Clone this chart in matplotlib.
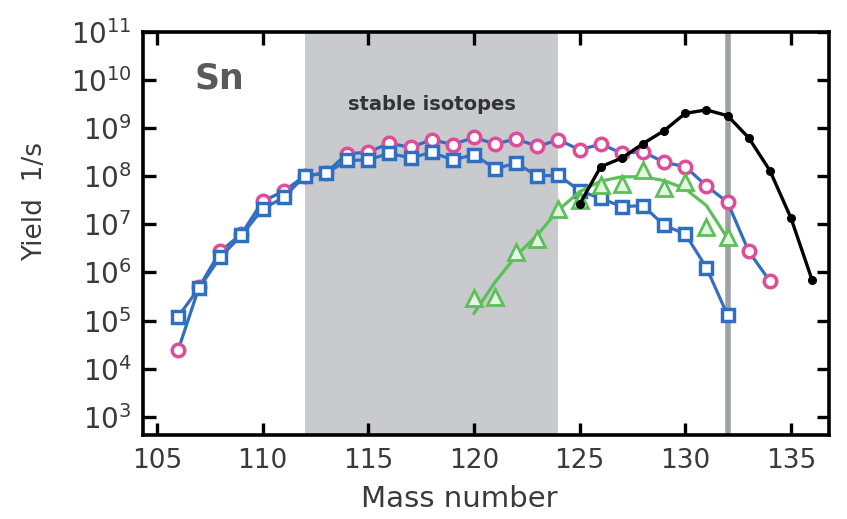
import numpy as np
import matplotlib.pyplot as plt

plt.rcParams['font.family'] = ['DejaVu Sans']

# mass numbers and yields (1/s)
mass_circ = [106, 107, 108, 109, 110, 111, 112, 113, 114, 115, 116, 117, 118, 119,
             120, 121, 122, 123, 124, 125, 126, 127, 128, 129, 130, 131, 132, 133, 134]
log_circ = [4.38, 5.70, 6.44, 6.80, 7.48, 7.69, 8.01, 8.07, 8.47, 8.50, 8.69, 8.60, 8.76, 8.66,
            8.81, 8.67, 8.78, 8.62, 8.76, 8.55, 8.67, 8.48, 8.51, 8.29, 8.20, 7.80, 7.46, 6.44, 5.82]

mass_sq = [106, 107, 108, 109, 110, 111, 112, 113, 114, 115, 116, 117, 118, 119,
           120, 121, 122, 123, 124, 125, 126, 127, 128, 129, 130, 131, 132]
log_sq = [5.08, 5.68, 6.32, 6.77, 7.32, 7.56, 8.01, 8.06, 8.33, 8.34, 8.48, 8.38, 8.50, 8.34,
          8.45, 8.16, 8.27, 8.01, 8.02, 7.70, 7.54, 7.37, 7.39, 6.98, 6.80, 6.10, 5.11]

mass_tri = [120, 121, 122, 123, 124, 125, 126, 127, 128, 129, 130, 131, 132]
log_tri = [5.46, 5.49, 6.42, 6.70, 7.32, 7.50, 7.81, 7.84, 8.13, 7.76, 7.88, 6.94, 6.73]
# smooth green curve drawn through the triangles
log_tri_curve = [5.15, 5.80, 6.35, 6.78, 7.30, 7.68, 7.90, 7.99, 7.99, 7.91, 7.74, 7.39, 6.71]

mass_dot = [125, 126, 127, 128, 129, 130, 131, 132, 133, 134, 135, 136]
log_dot = [7.42, 8.20, 8.38, 8.68, 8.95, 9.31, 9.38, 9.26, 8.80, 8.12, 7.13, 5.84]

stable_range = (112, 124)
marked_mass = 132

blue = '#2f6fc2'
pink = '#e04c98'
green = '#5cbf57'
gray_txt = '#3a3a3a'

fig = plt.figure(figsize=(8.47, 5.19), dpi=100)
ax = fig.add_axes([0.1685, 0.1618, 0.8103, 0.7765])

ax.axvspan(*stable_range, color='#c9cace', lw=0, zorder=0)
ax.axvline(marked_mass, color='#9da1a6', lw=4, zorder=1)

ax.plot(mass_circ, 10 ** np.array(log_circ), color=blue, lw=2.3, marker='o', ms=9,
        mfc='white', mec=pink, mew=2.5, zorder=3)
ax.plot(mass_sq, 10 ** np.array(log_sq), color='#3a6cc0', lw=2.3, marker='s', ms=9,
        mfc='white', mec=blue, mew=2.5, zorder=4)
ax.plot(mass_tri, 10 ** np.array(log_tri_curve), color=green, lw=2.3, zorder=5)
ax.plot(mass_tri, 10 ** np.array(log_tri), ls='none', marker='^', ms=11,
        mfc='#e6f5e3', mec=green, mew=2, zorder=5)
ax.plot(mass_dot, 10 ** np.array(log_dot), color='black', lw=2.4, marker='o', ms=5.5,
        mfc='black', mec='black', zorder=6)

ax.set_yscale('log')
ax.set_xlim(104.33, 136.8)
ax.set_ylim(10 ** 2.62, 10 ** 11)
ax.set_xticks([105, 110, 115, 120, 125, 130, 135])
ax.set_yticks([10 ** k for k in range(3, 12)])
ax.minorticks_off()

for s in ax.spines.values():
    s.set_linewidth(2.6)
ax.tick_params(which='major', direction='in', length=9, width=2.4,
               top=True, right=True, labelcolor=gray_txt, pad=9)
ax.tick_params(axis='x', labelsize=19)
ax.tick_params(axis='y', labelsize=20, pad=8)

ax.set_xlabel('Mass number', fontsize=21, color=gray_txt)
ax.set_ylabel('Yield  1/s', fontsize=19, color=gray_txt)
ax.xaxis.set_label_coords(0.462, -0.125)
ax.yaxis.set_label_coords(-0.138, 0.58)

ax.text(0.075, 0.885, 'Sn', transform=ax.transAxes, fontsize=25, fontweight='bold',
        color='#5a5a5a', ha='left', va='center')
ax.text(118, 10 ** 9.5, 'stable isotopes', fontsize=14, fontweight='bold',
        color='#333333', ha='center', va='center')

fig.savefig('out.png', dpi=100)
